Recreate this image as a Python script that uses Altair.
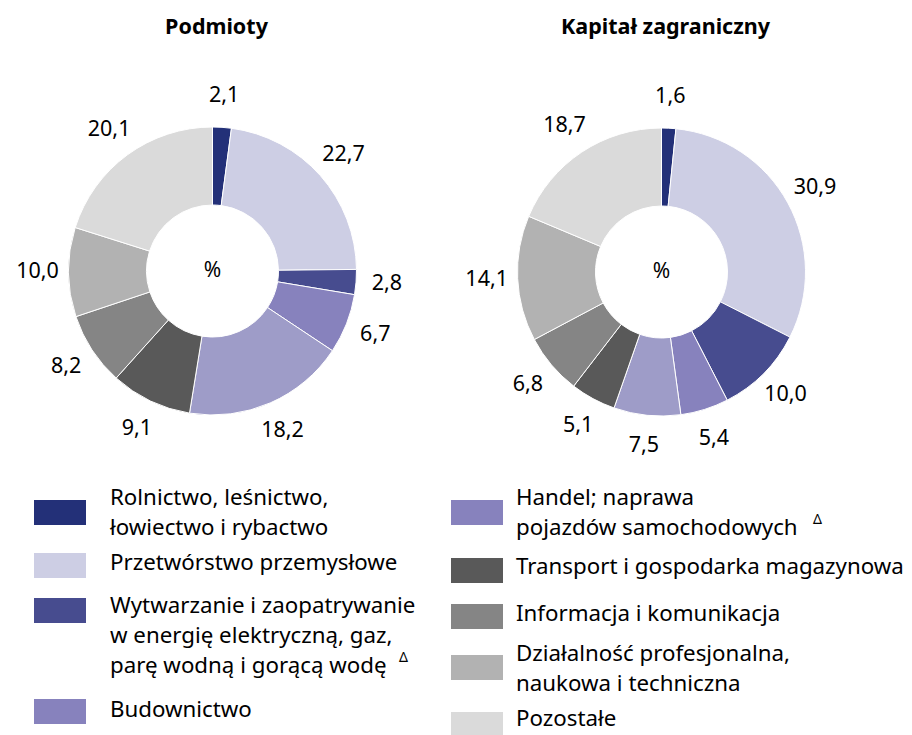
import altair as alt
import pandas as pd

# ---------------- data ----------------
categories = [
    "Rolnictwo, leśnictwo, łowiectwo i rybactwo",
    "Przetwórstwo przemysłowe",
    "Wytwarzanie i zaopatrywanie w energię elektryczną, gaz, parę wodną i gorącą wodę",
    "Budownictwo",
    "Handel; naprawa pojazdów samochodowych",
    "Transport i gospodarka magazynowa",
    "Informacja i komunikacja",
    "Działalność profesjonalna, naukowa i techniczna",
    "Pozostałe",
]
podmioty = [2.1, 22.7, 2.8, 6.7, 18.2, 9.1, 8.2, 10.0, 20.1]
kapital = [1.6, 30.9, 10.0, 5.4, 7.5, 5.1, 6.8, 14.1, 18.7]
colors = ["#233078", "#cdcee4", "#474c8f", "#8782bd", "#9e9cc8",
          "#595959", "#858585", "#b2b2b2", "#dadada"]
legend_swatch_colors = ["#233078", "#cdcee4", "#474c8f", "#8782bd", "#8782bd",
                        "#595959", "#858585", "#b2b2b2", "#dadada"]
legend_lines = [
    ["Rolnictwo, leśnictwo,", "łowiectwo i rybactwo"],
    ["Przetwórstwo przemysłowe"],
    ["Wytwarzanie i zaopatrywanie", "w energię elektryczną, gaz,", "parę wodną i gorącą wodę"],
    ["Budownictwo"],
    ["Handel; naprawa", "pojazdów samochodowych"],
    ["Transport i gospodarka magazynowa"],
    ["Informacja i komunikacja"],
    ["Działalność profesjonalna,", "naukowa i techniczna"],
    ["Pozostałe"],
]
footnote_mark = "Δ"
footnote_items = [2, 4]   # items whose last line carries the Δ mark
titles = ["Podmioty", "Kapitał zagraniczny"]

# ---------------- layout (pixels) ----------------
FONT = "Noto Sans"
W, H = 896, 727
centers = [(204.5, 263), (653.5, 264)]
R_IN, R_OUT, R_LAB = 66, 144, 175
legend_col = [0, 0, 0, 0, 1, 1, 1, 1, 1]
col_swatch_x = [26, 443]
col_text_x = [102, 508]
swatch_w = 52
swatch_y = [492, 545, 590, 691, 492, 550, 596, 647, 704]
swatch_h = 25
text_y = [490, 555, 598, 702, 490, 559, 606, 646, 711]
line_h = 30
footnote_x = [391, 805]
footnote_dy = -8

def fmt(v):
    return f"{v:.1f}".replace(".", ",")

color_scale = alt.Scale(domain=categories, range=colors)

def pie(values, title, cx, cy):
    df = pd.DataFrame({
        "category": categories,
        "value": values,
        "idx": list(range(len(values))),
        "label": [fmt(v) for v in values],
    })
    base = alt.Chart(df).encode(
        theta=alt.Theta("value:Q", stack="normalize"),
        order=alt.Order("idx:Q"),
        x=alt.value(cx),
        y=alt.value(cy),
    )
    arcs = base.mark_arc(innerRadius=R_IN, outerRadius=R_OUT, stroke="white",
                         strokeWidth=1).encode(
        color=alt.Color("category:N", scale=color_scale, legend=None)
    )
    labels = base.mark_text(radius=R_LAB, font=FONT, fontSize=21.5,
                            color="black").encode(text="label:N")
    center = alt.Chart(pd.DataFrame({"t": ["%"]})).mark_text(
        font=FONT, fontSize=21, color="black"
    ).encode(text="t:N", x=alt.value(cx), y=alt.value(cy))
    ttl = alt.Chart(pd.DataFrame({"t": [title]})).mark_text(
        font=FONT, fontSize=21.5, fontWeight="bold", color="black"
    ).encode(text="t:N", x=alt.value(cx + 4), y=alt.value(20))
    return arcs + labels + center + ttl

# legend tables
sw_rows, tx_rows, fn_rows = [], [], []
for i, cat in enumerate(categories):
    c = legend_col[i]
    sw_rows.append({
        "category": cat,
        "x": col_swatch_x[c], "x2": col_swatch_x[c] + swatch_w,
        "y": swatch_y[i], "y2": swatch_y[i] + swatch_h,
        "fill": legend_swatch_colors[i],
    })
    for j, ln in enumerate(legend_lines[i]):
        tx_rows.append({"text": ln, "x": col_text_x[c], "y": text_y[i] + j * line_h})
    if i in footnote_items:
        k = footnote_items.index(i)
        fn_rows.append({"text": footnote_mark, "x": footnote_x[k],
                        "y": text_y[i] + (len(legend_lines[i]) - 1) * line_h + footnote_dy})
sw_df = pd.DataFrame(sw_rows)
tx_df = pd.DataFrame(tx_rows)
fn_df = pd.DataFrame(fn_rows)

swatches = alt.Chart(sw_df).mark_rect().encode(
    x=alt.X("x:Q", scale=None, axis=None),
    x2="x2:Q",
    y=alt.Y("y:Q", scale=None, axis=None),
    y2="y2:Q",
    fill=alt.Fill("fill:N", scale=None),
)
legend_text = alt.Chart(tx_df).mark_text(
    font=FONT, fontSize=22.3, align="left", baseline="middle", color="black"
).encode(
    x=alt.X("x:Q", scale=None, axis=None),
    y=alt.Y("y:Q", scale=None, axis=None),
    text="text:N",
)
footnotes = alt.Chart(fn_df).mark_text(
    font=FONT, fontSize=14, align="left", baseline="middle", color="black"
).encode(
    x=alt.X("x:Q", scale=None, axis=None),
    y=alt.Y("y:Q", scale=None, axis=None),
    text="text:N",
)

chart = alt.layer(
    pie(podmioty, titles[0], *centers[0]),
    pie(kapital, titles[1], *centers[1]),
    swatches,
    legend_text,
    footnotes,
).properties(
    width=W, height=H, padding=0, autosize="none"
).configure_view(stroke=None)

chart.save("out.html", embed_options={"renderer": "svg", "actions": False})
